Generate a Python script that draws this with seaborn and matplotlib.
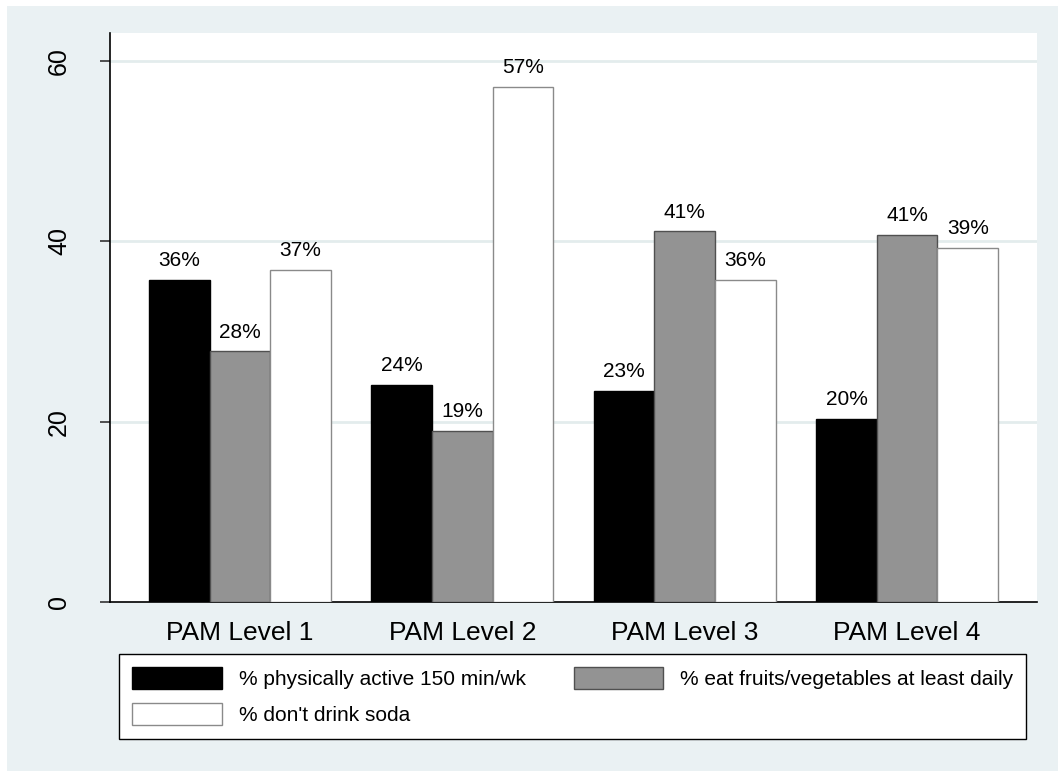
import matplotlib
matplotlib.use("Agg")
import matplotlib.pyplot as plt
from matplotlib.patches import Patch, Rectangle
import pandas as pd
import seaborn as sns

levels = ["PAM Level 1", "PAM Level 2", "PAM Level 3", "PAM Level 4"]
series = ["% physically active 150 min/wk",
          "% eat fruits/vegetables at least daily",
          "% don't drink soda"]
active = [35.7, 24.1, 23.4, 20.3]
fruit_veg = [27.8, 19.0, 41.1, 40.7]
no_soda = [36.8, 57.1, 35.7, 39.3]

fills = ["#000000", "#939393", "#ffffff"]
edges = ["#000000", "#505050", "#8a8a8a"]
bg = "#eaf1f3"

df = pd.DataFrame({
    "level": levels * 3,
    "series": [s for s in series for _ in levels],
    "value": active + fruit_veg + no_soda,
})

sns.set_theme(style="white")
plt.rcParams["font.family"] = ["Liberation Sans", "DejaVu Sans"]
plt.rcParams["text.color"] = "black"

fig = plt.figure(figsize=(10.58, 7.71), dpi=100, facecolor="white")
fig.patches.append(Rectangle((7 / 1058, 0), 1, 1 - 6 / 771, transform=fig.transFigure,
                             facecolor=bg, edgecolor="none", zorder=-10))
ax = fig.add_axes([110 / 1058, 1 - 602 / 771, 927 / 1058, 569 / 771])
ax.set_facecolor("white")

sns.barplot(data=df, x="level", y="value", hue="series", hue_order=series,
            palette=fills, width=0.818, gap=0, legend=False, ax=ax, zorder=3)

for cont, ec in zip(ax.containers, edges):
    for bar in cont:
        bar.set_edgecolor(ec)
        bar.set_linewidth(1.0)
    ax.bar_label(cont, labels=[f"{round(b.get_height())}%" for b in cont],
                 padding=7, fontsize=15, color="black")

ax.set_xlim(-0.584, 3.584)
ax.set_ylim(0, 63.1)
ax.set_yticks([0, 20, 40, 60])
ax.set_yticklabels(["0", "20", "40", "60"], rotation=90, va="center", fontsize=18)
ax.tick_params(axis="y", left=True, length=7, width=1.2, color="#333333", pad=21,
               labelcolor="black")
ax.tick_params(axis="x", bottom=False, labelsize=19, pad=8, labelcolor="black")
ax.set_xlabel("")
ax.set_ylabel("")

for y in [20, 40, 60]:
    ax.axhline(y, color="#e3eced", linewidth=2, zorder=1)

sns.despine(ax=ax)
ax.spines["left"].set_color("black")
ax.spines["bottom"].set_color("black")
ax.spines["left"].set_linewidth(1.2)
ax.spines["bottom"].set_linewidth(1.2)

handles = [Patch(facecolor=fills[i], edgecolor=edges[i], label=series[i]) for i in (0, 2, 1)]
leg = fig.legend(handles=handles, ncol=2, loc="upper left",
                 bbox_to_anchor=(119 / 1058, 1 - 654 / 771),
                 fontsize=15, handlelength=4.3, handleheight=1.25, handletextpad=0.8,
                 labelspacing=0.67, borderaxespad=0, borderpad=0.64, columnspacing=2.3,
                 fancybox=False, framealpha=1, edgecolor="black", facecolor="white",
                 labelcolor="black")
leg.get_frame().set_linewidth(1.0)

fig.savefig("out.png", dpi=100, facecolor=fig.get_facecolor())
